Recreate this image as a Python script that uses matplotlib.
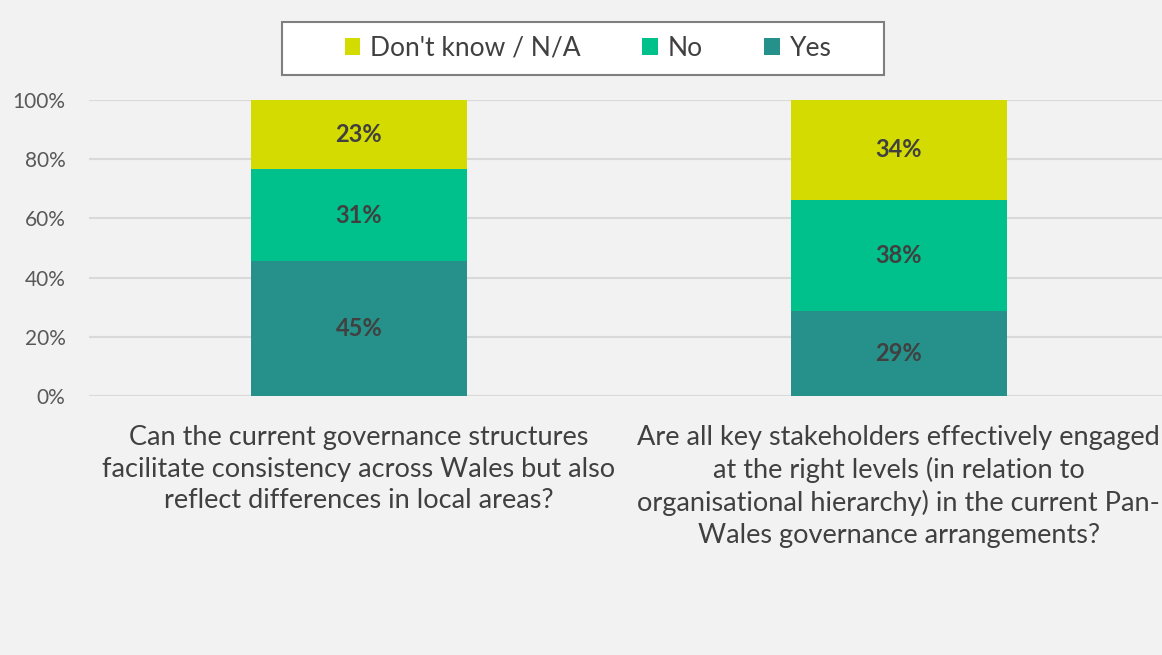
import matplotlib.pyplot as plt
import numpy as np
from matplotlib.patches import Rectangle

plt.rcParams['font.family'] = ['Lato', 'DejaVu Sans']

questions = [
    "Can the current governance structures\nfacilitate consistency across Wales but also\nreflect differences in local areas?",
    "Are all key stakeholders effectively engaged\nat the right levels (in relation to\norganisational hierarchy) in the current Pan-\nWales governance arrangements?",
]
yes = [45, 29]
no = [31, 38]
dont_know = [23, 34]

series = [("Yes", yes, "#25918A"), ("No", no, "#00C08B"), ("Don't know / N/A", dont_know, "#D4DB00")]

# 100% stacked: scale each column so it sums to one
totals = np.array(yes) + np.array(no) + np.array(dont_know)

fig = plt.figure(figsize=(11.62, 6.55), dpi=100, facecolor="#F2F2F2")
ax = fig.add_axes([0.0766, 0.3954, 0.9290, 0.4519])
ax.set_facecolor("#F2F2F2")

x = np.arange(len(questions))
bottom = np.zeros(len(questions))
handles = {}
for name, vals, col in series:
    share = np.array(vals) / totals
    b = ax.bar(x, share, 0.4, bottom=bottom, color=col, label=name, zorder=3)
    handles[name] = b
    for xi, s, v, b0 in zip(x, share, vals, bottom):
        ax.text(xi, b0 + s / 2, f"{v}%", ha="center", va="center",
                fontsize=17, fontweight="bold", color="#404040", zorder=4)
    bottom += share

ax.set_xlim(-0.5, 1.5)
ax.set_ylim(0, 1)
ax.set_yticks(np.linspace(0, 1, 6))
ax.set_yticklabels([f"{int(v)}%" for v in np.linspace(0, 100, 6)])
ax.yaxis.grid(True, color="#D9D9D9", linewidth=1.5, zorder=0)
ax.set_xticks(x)
ax.set_xticklabels(questions, fontsize=19.5, color="#404040", linespacing=1.33)
ax.tick_params(axis="both", length=0)
ax.tick_params(axis="y", labelsize=15, labelcolor="#595959", pad=17)
ax.tick_params(axis="x", pad=21)
for sp in ax.spines.values():
    sp.set_visible(False)

# legend box drawn separately so it can be wider than its entries
fig.patches.append(Rectangle((0.2427, 0.8855), 0.518, 0.0809, transform=fig.transFigure,
                             facecolor="white", edgecolor="#7F7F7F", linewidth=1.5, zorder=0))
order = ["Don't know / N/A", "No", "Yes"]
leg = fig.legend([handles[n] for n in order], order, loc="center",
                 bbox_to_anchor=(0.506, 0.926), ncol=3, frameon=False,
                 fontsize=19, labelcolor="#404040",
                 handlelength=0.6, handleheight=0.6, handletextpad=0.35,
                 columnspacing=2.35, borderpad=0.3)

fig.savefig("out.png", dpi=100, facecolor=fig.get_facecolor())
